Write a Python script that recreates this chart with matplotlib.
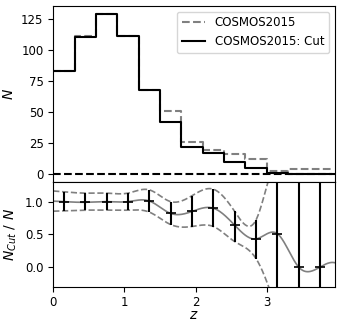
import numpy as np
import matplotlib
matplotlib.use("Agg")
import matplotlib.pyplot as plt

# histogram bins in redshift
z_edges = np.arange(0, 3.91, 0.3)
n_all = [83, 111, 129, 111, 68, 51, 26, 19, 16, 12, 2, 4, 4]
n_cut = [83, 110, 129, 111, 68, 42, 22, 17, 10, 5, 1, 0, 0]

# ratio panel
ratio = [1.00, 0.99, 1.00, 1.00, 1.01, 0.82, 0.85, 0.90, 0.64, 0.43, 0.51, 0.00, 0.00]
err_up = [0.15, 0.14, 0.13, 0.13, 0.17, 0.18, 0.24, 0.29, 0.21, 0.29, 1.2, 1.5, 1.5]
err_lo = [0.14, 0.12, 0.13, 0.13, 0.17, 0.17, 0.23, 0.28, 0.25, 0.30, 1.2, 1.5, 1.5]


def spline(x, y, xs):
    # natural cubic spline, end segments extended
    x = np.asarray(x, float)
    y = np.asarray(y, float)
    n = len(x)
    h = np.diff(x)
    A = np.zeros((n, n))
    b = np.zeros(n)
    A[0, 0] = 1
    A[-1, -1] = 1
    for i in range(1, n - 1):
        A[i, i - 1] = h[i - 1]
        A[i, i] = 2 * (h[i - 1] + h[i])
        A[i, i + 1] = h[i]
        b[i] = 6 * ((y[i + 1] - y[i]) / h[i] - (y[i] - y[i - 1]) / h[i - 1])
    M = np.linalg.solve(A, b)
    i = np.clip(np.searchsorted(x, xs) - 1, 0, n - 2)
    hi = h[i]
    a, c = x[i], x[i + 1]
    return (M[i] * (c - xs) ** 3 / (6 * hi) + M[i + 1] * (xs - a) ** 3 / (6 * hi)
            + (y[i] / hi - M[i] * hi / 6) * (c - xs)
            + (y[i + 1] / hi - M[i + 1] * hi / 6) * (xs - a))


z_mid = 0.5 * (z_edges[:-1] + z_edges[1:])
ratio = np.array(ratio)
up = ratio + np.array(err_up)
lo = ratio - np.array(err_lo)

fig = plt.figure(figsize=(3.37, 3.23), dpi=100)
ax1 = fig.add_axes([0.158, 0.4365, 0.836, 0.5455])
ax2 = fig.add_axes([0.158, 0.1124, 0.836, 0.3241], sharex=ax1)

ax1.step(z_edges, np.append(n_all, n_all[-1]), where="post", color="gray",
         ls="--", lw=1.5, label="COSMOS2015")
ax1.step(z_edges, np.append(n_cut, n_cut[-1]), where="post", color="black",
         lw=1.5, label="COSMOS2015: Cut")
ax1.axhline(0, color="black", ls="--", lw=1.5)
ax1.set_ylim(-6.5, 135.5)
ax1.set_yticks([0, 25, 50, 75, 100, 125])
ax1.set_ylabel("$N$", fontsize=10)
ax1.tick_params(axis="x", bottom=False, labelbottom=False)
ax1.tick_params(labelsize=8.5)
ax1.legend(loc="upper right", fontsize=8.5)

zs = np.linspace(0, 3.96, 400)
ax2.plot(zs, spline(z_mid, ratio, zs), color="gray", lw=1.2)
ax2.plot(zs, spline(z_mid, up, zs), color="gray", ls="--", lw=1.2)
ax2.plot(zs, spline(z_mid, lo, zs), color="gray", ls="--", lw=1.2)
ax2.errorbar(z_mid, ratio, yerr=[err_lo, err_up], fmt="_", color="black",
             ms=7, mew=1.2, elinewidth=1.5)
ax2.set_ylim(-0.3, 1.3)
ax2.set_yticks([0.0, 0.5, 1.0])
ax2.set_xlim(0, 3.96)
ax2.set_xticks([0, 1, 2, 3])
ax2.set_xlabel("$z$", fontsize=10, labelpad=-1)
ax2.set_ylabel("$N_{Cut}$ / $N$", fontsize=10)
ax2.tick_params(labelsize=8.5)

fig.savefig("out.png", dpi=100)
